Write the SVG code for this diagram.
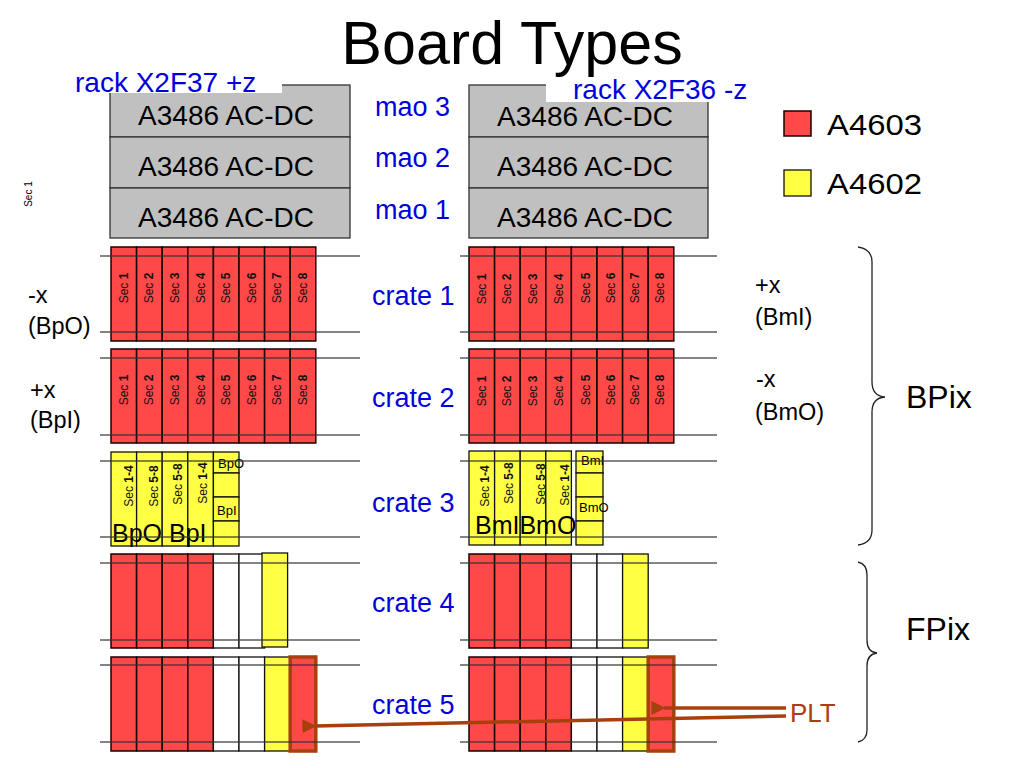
<svg xmlns="http://www.w3.org/2000/svg" width="1024" height="768" viewBox="0 0 1024 768">
<defs>
<style>
text{font-family:"Liberation Sans",Arial,sans-serif;}
.rack{fill:#C0C0C0;stroke:#333;stroke-width:1.3;}
.rt{font-size:28px;fill:#000;text-anchor:middle;}
.blue{fill:#0000DD;font-size:27px;}
.rlbl{fill:#0000DD;font-size:28px;}
.red{fill:#FF4848;stroke:#1a0000;stroke-width:1.5;}
.yel{fill:#FFFF44;stroke:#111;stroke-width:1.3;}
.wht{fill:#FFFFFF;stroke:#111;stroke-width:1.3;}
.plt{fill:#FF4848;stroke:#A8400E;stroke-width:3.5;}
.rail{stroke:#333;stroke-width:1.5;stroke-opacity:0.8;}
.sec{font-size:12px;fill:#111;text-anchor:middle;}
.lab{font-size:23.5px;fill:#000;}
.small{font-size:13px;fill:#000;}
.big{font-size:25px;fill:#000;}
.leg{font-size:29px;fill:#000;}
.brace{fill:none;stroke:#222;stroke-width:1.3;}
.conn{stroke:#A8400E;stroke-width:3.5;fill:none;}
</style>
<marker id="ah" viewBox="0 0 10 10" refX="1" refY="5" markerWidth="4" markerHeight="4" orient="auto-start-reverse" markerUnits="strokeWidth">
<path d="M0,5 L10,0 L10,10 z" fill="#A8400E"/>
</marker>
</defs>
<rect width="1024" height="768" fill="#fff"/>

<g id="title"><text x="512" y="64" font-size="61" text-anchor="middle" fill="#000">Board Types</text></g>

<g id="rack-left">
<rect class="rack" x="110" y="85" width="240" height="52"/>
<rect class="rack" x="110" y="137" width="240" height="51"/>
<rect class="rack" x="110" y="188" width="240" height="50"/>
<rect x="72" y="68" width="210" height="25" fill="#fff"/>
<text class="rlbl" x="75" y="92">rack X2F37 +z</text>
<text class="rt" x="226" y="125">A3486 AC-DC</text>
<text class="rt" x="226" y="176">A3486 AC-DC</text>
<text class="rt" x="226" y="227">A3486 AC-DC</text>
</g>
<g id="rack-right">
<rect class="rack" x="469" y="85" width="239" height="52"/>
<rect class="rack" x="469" y="137" width="239" height="51"/>
<rect class="rack" x="469" y="188" width="239" height="50"/>
<rect x="546" y="77" width="164" height="25" fill="#fff"/>
<text class="rlbl" x="573" y="99">rack X2F36 -z</text>
<text class="rt" x="585" y="126">A3486 AC-DC</text>
<text class="rt" x="585" y="176">A3486 AC-DC</text>
<text class="rt" x="585" y="227">A3486 AC-DC</text>
</g>
<g id="mao-labels">
<text class="blue" x="375" y="116">mao 3</text>
<text class="blue" x="375" y="167">mao 2</text>
<text class="blue" x="375" y="219">mao 1</text>
</g>
<g id="sec1-note"><text x="32" y="194" font-size="10" text-anchor="middle" transform="rotate(-90 32 194)" fill="#000">Sec 1</text></g>

<g id="legend">
<rect class="red" x="784" y="111" width="27" height="25"/>
<text class="leg" x="827" y="135" textLength="95" lengthAdjust="spacingAndGlyphs">A4603</text>
<rect class="yel" x="784" y="170" width="27" height="26"/>
<text class="leg" x="827" y="194" textLength="95" lengthAdjust="spacingAndGlyphs">A4602</text>
</g>

<g id="crate1-left">
<rect class="red" x="111" y="247" width="25.6" height="94"/>
<rect class="red" x="136.6" y="247" width="25.6" height="94"/>
<rect class="red" x="162.2" y="247" width="25.6" height="94"/>
<rect class="red" x="187.8" y="247" width="25.6" height="94"/>
<rect class="red" x="213.4" y="247" width="25.6" height="94"/>
<rect class="red" x="239" y="247" width="25.6" height="94"/>
<rect class="red" x="264.6" y="247" width="25.6" height="94"/>
<rect class="red" x="290.2" y="247" width="25.6" height="94"/>
<text class="sec" transform="translate(128,288) rotate(-90)">Sec <tspan font-weight="bold">1</tspan></text>
<text class="sec" transform="translate(153.4,288) rotate(-90)">Sec <tspan font-weight="bold">2</tspan></text>
<text class="sec" transform="translate(179,288) rotate(-90)">Sec <tspan font-weight="bold">3</tspan></text>
<text class="sec" transform="translate(204.6,288) rotate(-90)">Sec <tspan font-weight="bold">4</tspan></text>
<text class="sec" transform="translate(230.2,288) rotate(-90)">Sec <tspan font-weight="bold">5</tspan></text>
<text class="sec" transform="translate(255.8,288) rotate(-90)">Sec <tspan font-weight="bold">6</tspan></text>
<text class="sec" transform="translate(281.4,288) rotate(-90)">Sec <tspan font-weight="bold">7</tspan></text>
<text class="sec" transform="translate(307,288) rotate(-90)">Sec <tspan font-weight="bold">8</tspan></text>
<line class="rail" x1="100" y1="256" x2="360" y2="256"/>
<line class="rail" x1="100" y1="332" x2="360" y2="332"/>
</g>
<g id="crate2-left">
<rect class="red" x="111" y="349" width="25.6" height="94"/>
<rect class="red" x="136.6" y="349" width="25.6" height="94"/>
<rect class="red" x="162.2" y="349" width="25.6" height="94"/>
<rect class="red" x="187.8" y="349" width="25.6" height="94"/>
<rect class="red" x="213.4" y="349" width="25.6" height="94"/>
<rect class="red" x="239" y="349" width="25.6" height="94"/>
<rect class="red" x="264.6" y="349" width="25.6" height="94"/>
<rect class="red" x="290.2" y="349" width="25.6" height="94"/>
<text class="sec" transform="translate(128,390) rotate(-90)">Sec <tspan font-weight="bold">1</tspan></text>
<text class="sec" transform="translate(153.4,390) rotate(-90)">Sec <tspan font-weight="bold">2</tspan></text>
<text class="sec" transform="translate(179,390) rotate(-90)">Sec <tspan font-weight="bold">3</tspan></text>
<text class="sec" transform="translate(204.6,390) rotate(-90)">Sec <tspan font-weight="bold">4</tspan></text>
<text class="sec" transform="translate(230.2,390) rotate(-90)">Sec <tspan font-weight="bold">5</tspan></text>
<text class="sec" transform="translate(255.8,390) rotate(-90)">Sec <tspan font-weight="bold">6</tspan></text>
<text class="sec" transform="translate(281.4,390) rotate(-90)">Sec <tspan font-weight="bold">7</tspan></text>
<text class="sec" transform="translate(307,390) rotate(-90)">Sec <tspan font-weight="bold">8</tspan></text>
<line class="rail" x1="100" y1="358" x2="360" y2="358"/>
<line class="rail" x1="100" y1="435" x2="360" y2="435"/>
</g>
<g id="crate3-left">
<rect class="yel" x="111" y="452" width="25.6" height="94"/>
<rect class="yel" x="136.6" y="452" width="25.6" height="94"/>
<rect class="yel" x="162.2" y="452" width="25.6" height="94"/>
<rect class="yel" x="187.8" y="452" width="25.6" height="94"/>
<rect class="yel" x="213.4" y="452" width="25.6" height="21"/>
<rect class="yel" x="213.4" y="473" width="25.6" height="24"/>
<rect class="yel" x="213.4" y="497" width="25.6" height="24"/>
<rect class="yel" x="213.4" y="521" width="25.6" height="25"/>
<text class="sec" transform="translate(133,486) rotate(-90)">Sec <tspan font-weight="bold">1-4</tspan></text>
<text class="sec" transform="translate(158,486) rotate(-90)">Sec <tspan font-weight="bold">5-8</tspan></text>
<text class="sec" transform="translate(182,484) rotate(-90)">Sec <tspan font-weight="bold">5-8</tspan></text>
<text class="sec" transform="translate(207,483) rotate(-90)">Sec <tspan font-weight="bold">1-4</tspan></text>
<text class="small" x="218" y="468">BpO</text>
<text class="small" x="217" y="515">BpI</text>
<text class="big" x="112" y="542">BpO BpI</text>
<line class="rail" x1="100" y1="461" x2="360" y2="461"/>
<line class="rail" x1="100" y1="537" x2="360" y2="537"/>
</g>
<g id="crate4-left">
<rect class="red" x="111" y="554" width="25.6" height="94"/>
<rect class="red" x="136.6" y="554" width="25.6" height="94"/>
<rect class="red" x="162.2" y="554" width="25.6" height="94"/>
<rect class="red" x="187.8" y="554" width="25.6" height="94"/>
<rect class="wht" x="213.4" y="554" width="25.6" height="94"/>
<rect class="wht" x="239" y="554" width="25.6" height="94"/>
<rect class="yel" x="262" y="553" width="25.6" height="94"/>
<line class="rail" x1="100" y1="563" x2="360" y2="563"/>
<line class="rail" x1="100" y1="640" x2="360" y2="640"/>
</g>
<g id="crate5-left">
<rect class="red" x="111" y="657" width="25.6" height="94"/>
<rect class="red" x="136.6" y="657" width="25.6" height="94"/>
<rect class="red" x="162.2" y="657" width="25.6" height="94"/>
<rect class="red" x="187.8" y="657" width="25.6" height="94"/>
<rect class="wht" x="213.4" y="657" width="25.6" height="94"/>
<rect class="wht" x="239" y="657" width="25.6" height="94"/>
<rect class="yel" x="264.6" y="657" width="25.6" height="94"/>
<rect class="plt" x="290.2" y="657" width="25.6" height="94"/>
<line class="rail" x1="100" y1="665" x2="360" y2="665"/>
<line class="rail" x1="100" y1="742" x2="360" y2="742"/>
</g>

<g id="crate1-right">
<rect class="red" x="469" y="247" width="25.6" height="94"/>
<rect class="red" x="494.6" y="247" width="25.6" height="94"/>
<rect class="red" x="520.2" y="247" width="25.6" height="94"/>
<rect class="red" x="545.8" y="247" width="25.6" height="94"/>
<rect class="red" x="571.4" y="247" width="25.6" height="94"/>
<rect class="red" x="597" y="247" width="25.6" height="94"/>
<rect class="red" x="622.6" y="247" width="25.6" height="94"/>
<rect class="red" x="648.2" y="247" width="25.6" height="94"/>
<text class="sec" transform="translate(486,289) rotate(-90)">Sec <tspan font-weight="bold">1</tspan></text>
<text class="sec" transform="translate(511.4,289) rotate(-90)">Sec <tspan font-weight="bold">2</tspan></text>
<text class="sec" transform="translate(537,289) rotate(-90)">Sec <tspan font-weight="bold">3</tspan></text>
<text class="sec" transform="translate(562.6,289) rotate(-90)">Sec <tspan font-weight="bold">4</tspan></text>
<text class="sec" transform="translate(590,288) rotate(-90)">Sec <tspan font-weight="bold">5</tspan></text>
<text class="sec" transform="translate(614.8,288) rotate(-90)">Sec <tspan font-weight="bold">6</tspan></text>
<text class="sec" transform="translate(639.4,288) rotate(-90)">Sec <tspan font-weight="bold">7</tspan></text>
<text class="sec" transform="translate(664,288) rotate(-90)">Sec <tspan font-weight="bold">8</tspan></text>
<line class="rail" x1="460" y1="256" x2="717" y2="256"/>
<line class="rail" x1="460" y1="332" x2="717" y2="332"/>
</g>
<g id="crate2-right">
<rect class="red" x="469" y="349" width="25.6" height="94"/>
<rect class="red" x="494.6" y="349" width="25.6" height="94"/>
<rect class="red" x="520.2" y="349" width="25.6" height="94"/>
<rect class="red" x="545.8" y="349" width="25.6" height="94"/>
<rect class="red" x="571.4" y="349" width="25.6" height="94"/>
<rect class="red" x="597" y="349" width="25.6" height="94"/>
<rect class="red" x="622.6" y="349" width="25.6" height="94"/>
<rect class="red" x="648.2" y="349" width="25.6" height="94"/>
<text class="sec" transform="translate(486,391) rotate(-90)">Sec <tspan font-weight="bold">1</tspan></text>
<text class="sec" transform="translate(511.4,391) rotate(-90)">Sec <tspan font-weight="bold">2</tspan></text>
<text class="sec" transform="translate(537,391) rotate(-90)">Sec <tspan font-weight="bold">3</tspan></text>
<text class="sec" transform="translate(562.6,391) rotate(-90)">Sec <tspan font-weight="bold">4</tspan></text>
<text class="sec" transform="translate(590,390) rotate(-90)">Sec <tspan font-weight="bold">5</tspan></text>
<text class="sec" transform="translate(614.8,390) rotate(-90)">Sec <tspan font-weight="bold">6</tspan></text>
<text class="sec" transform="translate(639.4,390) rotate(-90)">Sec <tspan font-weight="bold">7</tspan></text>
<text class="sec" transform="translate(664,390) rotate(-90)">Sec <tspan font-weight="bold">8</tspan></text>
<line class="rail" x1="460" y1="358" x2="717" y2="358"/>
<line class="rail" x1="460" y1="435" x2="717" y2="435"/>
</g>
<g id="crate3-right">
<rect class="yel" x="469" y="451" width="25.6" height="94"/>
<rect class="yel" x="494.6" y="451" width="25.6" height="94"/>
<rect class="yel" x="520.2" y="451" width="25.6" height="94"/>
<rect class="yel" x="545.8" y="451" width="25.6" height="94"/>
<rect class="yel" x="576" y="451" width="27" height="22"/>
<rect class="yel" x="576" y="473" width="27" height="24"/>
<rect class="yel" x="576" y="497" width="27" height="24"/>
<rect class="yel" x="576" y="521" width="27" height="24"/>
<text class="sec" transform="translate(489,486) rotate(-90)">Sec <tspan font-weight="bold">1-4</tspan></text>
<text class="sec" transform="translate(513,483) rotate(-90)">Sec <tspan font-weight="bold">5-8</tspan></text>
<text class="sec" transform="translate(545,484) rotate(-90)">Sec <tspan font-weight="bold">5-8</tspan></text>
<text class="sec" transform="translate(569,485) rotate(-90)">Sec <tspan font-weight="bold">1-4</tspan></text>
<text class="small" x="581" y="465">BmI</text>
<text class="small" x="579" y="512">BmO</text>
<text class="big" x="475" y="534">BmIBmO</text>
<line class="rail" x1="460" y1="461" x2="717" y2="461"/>
<line class="rail" x1="460" y1="537" x2="717" y2="537"/>
</g>
<g id="crate4-right">
<rect class="red" x="469" y="554" width="25.6" height="94"/>
<rect class="red" x="494.6" y="554" width="25.6" height="94"/>
<rect class="red" x="520.2" y="554" width="25.6" height="94"/>
<rect class="red" x="545.8" y="554" width="25.6" height="94"/>
<rect class="wht" x="571.4" y="554" width="25.6" height="94"/>
<rect class="wht" x="597" y="554" width="25.6" height="94"/>
<rect class="yel" x="622.6" y="554" width="25.6" height="94"/>
<line class="rail" x1="460" y1="563" x2="717" y2="563"/>
<line class="rail" x1="460" y1="640" x2="717" y2="640"/>
</g>
<g id="crate5-right">
<rect class="red" x="469" y="657" width="25.6" height="94"/>
<rect class="red" x="494.6" y="657" width="25.6" height="94"/>
<rect class="red" x="520.2" y="657" width="25.6" height="94"/>
<rect class="red" x="545.8" y="657" width="25.6" height="94"/>
<rect class="wht" x="571.4" y="657" width="25.6" height="94"/>
<rect class="wht" x="597" y="657" width="25.6" height="94"/>
<rect class="yel" x="622.6" y="657" width="25.6" height="94"/>
<rect class="plt" x="648.2" y="657" width="25.6" height="94"/>
<line class="rail" x1="460" y1="665" x2="717" y2="665"/>
<line class="rail" x1="460" y1="742" x2="717" y2="742"/>
</g>

<g id="crate-labels">
<text class="blue" x="372" y="305">crate 1</text>
<text class="blue" x="372" y="407">crate 2</text>
<text class="blue" x="372" y="512">crate 3</text>
<text class="blue" x="372" y="612">crate 4</text>
<text class="blue" x="372" y="714">crate 5</text>
</g>

<g id="side-labels">
<text class="lab" x="28" y="303">-x</text>
<text class="lab" x="28" y="334">(BpO)</text>
<text class="lab" x="30" y="398">+x</text>
<text class="lab" x="30" y="428">(BpI)</text>
<text class="lab" x="755" y="293">+x</text>
<text class="lab" x="755" y="325">(BmI)</text>
<text class="lab" x="756" y="387">-x</text>
<text class="lab" x="755" y="420">(BmO)</text>
</g>

<g id="bpix">
<path class="brace" d="M858,247 Q872,249 872,262 L872,382 Q872,396 885,397 Q872,398 872,412 L872,530 Q872,543 858,545"/>
<text x="906" y="408" font-size="32">BPix</text>
</g>
<g id="fpix">
<path class="brace" stroke="#555" d="M858,562 Q867,564 867,575 L867,640 Q867,652 877,653 Q867,654 867,666 L867,730 Q867,740 858,742"/>
<text x="906" y="640" font-size="32">FPix</text>
</g>

<g id="plt-label"><text x="790" y="722" font-size="26" fill="#A8400E">PLT</text></g>

<g id="connectors">
<line class="conn" x1="786" y1="708" x2="664" y2="708" marker-end="url(#ah)"/>
<line class="conn" x1="786" y1="716" x2="315" y2="726" marker-end="url(#ah)"/>
</g>
</svg>
